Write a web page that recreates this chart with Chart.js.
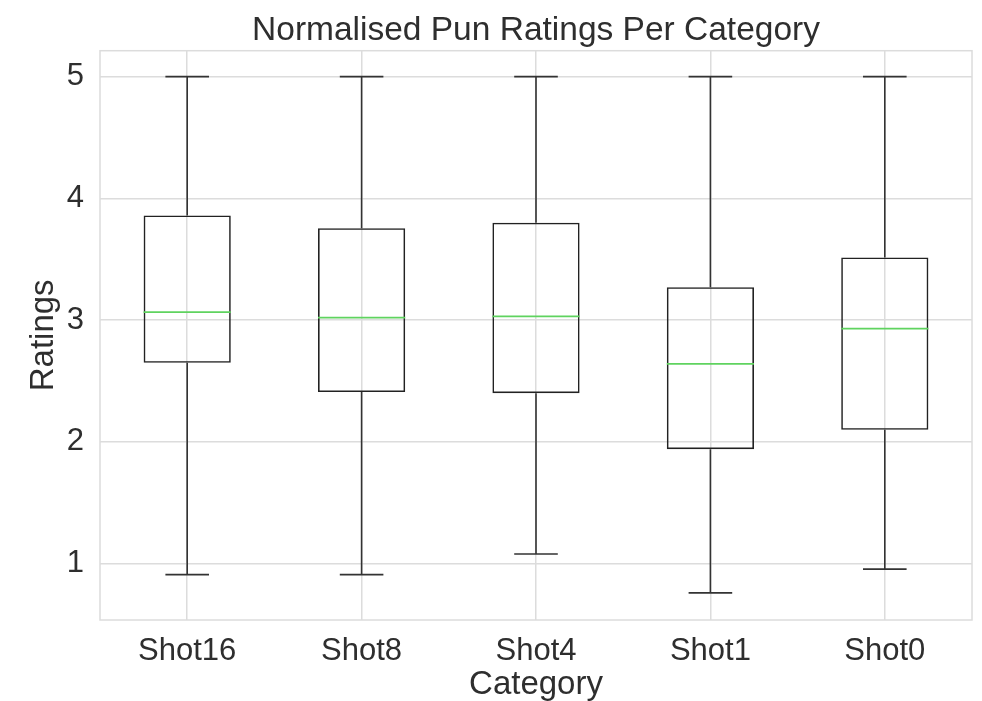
<!DOCTYPE html>
<html>
<head>
<meta charset="utf-8">
<script src="https://cdn.jsdelivr.net/npm/chart.js@4.4.1/dist/chart.umd.min.js"></script>
<style>
  html, body { margin: 0; padding: 0; background: #fff; }
  #wrap { width: 982px; height: 701px; }
</style>
</head>
<body>
<div id="wrap"><canvas id="chart" width="982" height="701"></canvas></div>
<script>
// Valores (boxplot por categoria)
const categories = ['Shot16', 'Shot8', 'Shot4', 'Shot1', 'Shot0'];
const whiskerLow = [0.91, 0.91, 1.08, 0.76, 0.955];
const q1 = [2.65, 2.41, 2.40, 1.94, 2.10];
const median = [3.065, 3.02, 3.03, 2.64, 2.93];
const q3 = [3.86, 3.755, 3.80, 3.27, 3.515];
const whiskerHigh = [5, 5, 5, 5, 5];
const yTicks = [1, 2, 3, 4, 5];

const FONT = '"Liberation Sans", Arial, Helvetica, sans-serif';
const TEXT = '#2e2e2e';
const GRID = '#dcdcdc';

// Desenha bigodes, tampas e mediana usando as escalas do grafico
const boxPlugin = {
    id: 'boxExtras',
    afterDatasetsDraw(chart) {
        const ctx = chart.ctx;
        const x = chart.scales.x;
        const y = chart.scales.y;
        const catW = x.getPixelForValue(1) - x.getPixelForValue(0);
        ctx.save();
        categories.forEach((c, i) => {
            const cx = x.getPixelForValue(i);
            const capHalf = catW * 0.125;
            const boxHalf = catW * 0.25;
            ctx.strokeStyle = '#333';
            ctx.lineWidth = 1.6;
            ctx.beginPath();
            // bigode superior
            ctx.moveTo(cx, y.getPixelForValue(q3[i]));
            ctx.lineTo(cx, y.getPixelForValue(whiskerHigh[i]));
            // bigode inferior
            ctx.moveTo(cx, y.getPixelForValue(q1[i]));
            ctx.lineTo(cx, y.getPixelForValue(whiskerLow[i]));
            // tampas
            ctx.moveTo(cx - capHalf, y.getPixelForValue(whiskerHigh[i]));
            ctx.lineTo(cx + capHalf, y.getPixelForValue(whiskerHigh[i]));
            ctx.moveTo(cx - capHalf, y.getPixelForValue(whiskerLow[i]));
            ctx.lineTo(cx + capHalf, y.getPixelForValue(whiskerLow[i]));
            ctx.stroke();
            // mediana
            ctx.strokeStyle = '#5fd35f';
            ctx.lineWidth = 1.8;
            ctx.beginPath();
            ctx.moveTo(cx - boxHalf, y.getPixelForValue(median[i]));
            ctx.lineTo(cx + boxHalf, y.getPixelForValue(median[i]));
            ctx.stroke();
        });
        ctx.restore();
    },
    beforeDatasetsDraw(chart) {
        // moldura da area do grafico
        const a = chart.chartArea;
        const ctx = chart.ctx;
        ctx.save();
        ctx.strokeStyle = GRID;
        ctx.lineWidth = 1.5;
        ctx.strokeRect(a.left, a.top, a.right - a.left, a.bottom - a.top);
        ctx.restore();
    }
};

const ctx = document.getElementById('chart').getContext('2d');
new Chart(ctx, {
    type: 'bar',
    data: {
        labels: categories,
        datasets: [{
            data: categories.map((c, i) => [q1[i], q3[i]]),
            backgroundColor: 'rgba(0,0,0,0)',
            borderColor: '#222',
            borderWidth: 1.6,
            borderSkipped: false,
            barPercentage: 0.5,
            categoryPercentage: 1.0
        }]
    },
    options: {
        responsive: false,
        animation: false,
        devicePixelRatio: 1,
        layout: { padding: { left: 0, right: 10, top: 0, bottom: 0 } },
        plugins: {
            legend: { display: false },
            tooltip: { enabled: false },
            title: {
                display: true,
                fullSize: false,
                text: 'Normalised Pun Ratings Per Category',
                color: TEXT,
                font: { family: FONT, size: 33.5, weight: 'normal', lineHeight: 1.2 },
                padding: { top: 10.5, bottom: 0 }
            }
        },
        scales: {
            x: {
                grid: { color: GRID, lineWidth: 1.5, offset: false, drawTicks: false },
                border: { display: false },
                ticks: { color: TEXT, font: { family: FONT, size: 31 }, padding: 13, maxRotation: 0 },
                title: {
                    display: true,
                    text: 'Category',
                    color: TEXT,
                    font: { family: FONT, size: 33, lineHeight: 1 },
                    padding: { top: 0, bottom: 0 }
                },
                afterFit(scale) { scale.height = 81; }
            },
            y: {
                min: 0.5375,
                max: 5.2125,
                grid: { color: GRID, lineWidth: 1.5, drawTicks: false },
                border: { display: false },
                ticks: { color: TEXT, font: { family: FONT, size: 31 }, padding: 16 },
                afterBuildTicks(scale) { scale.ticks = yTicks.map(v => ({ value: v })); },
                title: {
                    display: true,
                    text: 'Ratings',
                    color: TEXT,
                    font: { family: FONT, size: 33, lineHeight: 1.2 },
                    padding: { top: 24, bottom: 0 }
                },
                afterFit(scale) { scale.width = 100; }
            }
        }
    },
    plugins: [boxPlugin]
});
</script>
</body>
</html>
